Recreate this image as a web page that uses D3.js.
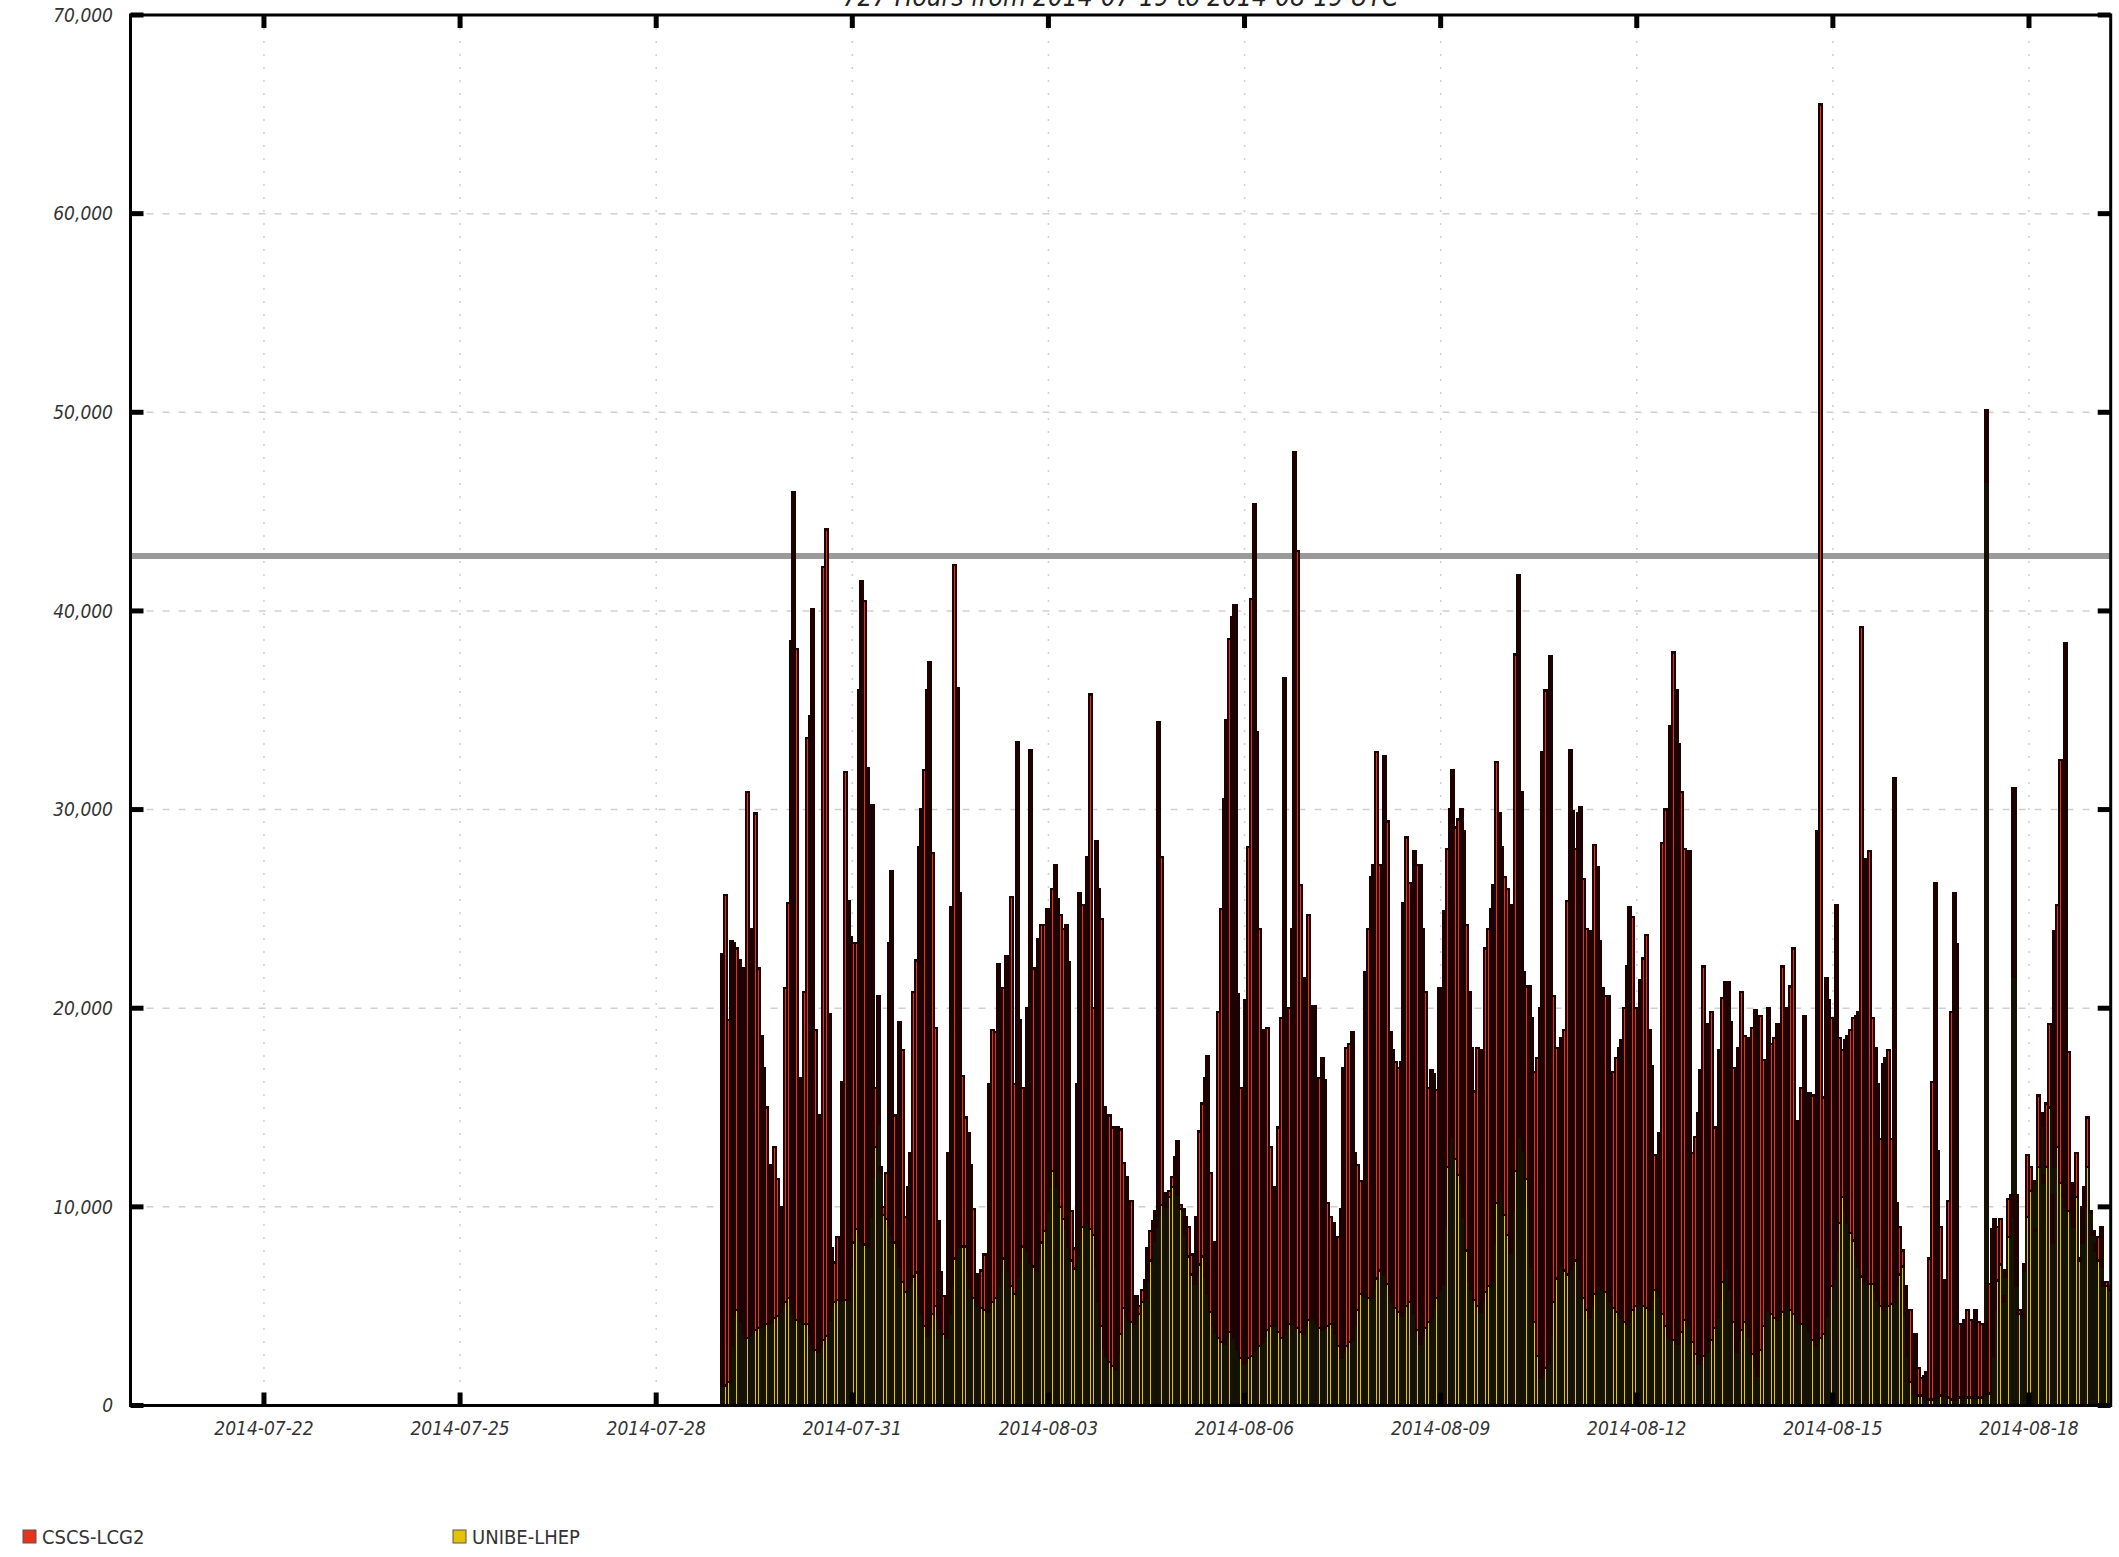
<!DOCTYPE html>
<html>
<head>
<meta charset="utf-8">
<script src="https://cdn.jsdelivr.net/npm/d3@7"></script>
<style>
  body { margin: 0; background: #fff; }
  svg text { font-family: "DejaVu Sans Condensed", "DejaVu Sans", sans-serif; font-stretch: condensed; }
</style>
</head>
<body>
<svg id="chart" width="2119" height="1557"></svg>
<script>
// hourly values in thousands, first bar = 2014-07-29 00:00 UTC, one row per day
const unibe = [
  1.0,1.0,1.2,3.0,4.5,4.8,4.9,4.2,3.6,3.4,3.5,3.7,3.8,3.9,4.0,4.0,4.1,4.1,4.2,4.4,4.5,4.7,5.0,5.2,
  5.4,5.0,4.6,4.3,4.2,4.2,4.1,4.1,3.6,3.1,2.8,2.7,3.0,3.3,3.5,4.3,5.0,5.2,5.3,5.3,5.3,5.3,5.3,7.0,
  8.2,8.9,8.6,8.3,8.1,8.0,9.5,11.5,13.0,14.2,11.8,9.6,9.4,9.0,8.6,8.2,8.0,7.0,6.2,5.7,5.9,6.2,6.5,6.7,
  5.5,4.6,4.0,3.5,4.0,4.6,5.0,4.4,3.9,3.6,3.4,4.6,6.0,7.4,8.0,8.0,8.0,8.0,6.8,5.9,5.4,5.1,5.0,4.9,
  4.8,4.7,5.0,5.2,5.4,6.0,6.8,7.4,7.8,6.8,6.0,5.6,6.5,7.4,8.0,8.3,7.8,7.2,7.0,6.8,7.5,8.2,8.8,9.8,
  11.0,11.8,12.1,11.0,10.0,9.4,8.9,8.0,7.3,6.9,7.6,8.4,9.0,9.5,9.2,8.9,8.6,7.0,5.2,4.0,2.9,2.5,2.2,2.0,
  1.8,2.6,3.6,4.9,4.6,4.3,4.2,4.1,4.5,4.6,5.2,5.4,6.3,7.3,8.3,9.0,9.6,10.1,10.4,10.0,10.5,11.0,11.0,10.6,
  9.9,9.8,8.6,7.5,6.6,6.1,6.6,7.1,7.5,6.5,5.6,4.7,4.0,3.7,3.4,3.2,3.1,3.4,3.7,4.0,3.4,2.8,2.4,2.1,
  2.2,2.4,2.5,2.7,2.9,3.0,3.2,3.5,3.8,4.0,4.3,4.0,3.7,3.4,3.6,3.9,4.1,4.3,4.1,3.9,3.7,3.6,4.0,4.3,
  4.6,4.4,4.1,3.9,3.8,3.9,4.0,4.1,4.2,3.6,3.0,2.4,2.7,3.0,3.2,3.3,4.0,4.8,5.6,5.6,5.5,5.4,5.4,5.9,
  6.4,6.8,7.1,6.6,6.1,5.6,5.2,4.9,4.7,4.5,4.7,5.0,5.2,5.4,4.6,3.8,3.1,3.5,3.9,4.2,4.4,4.9,5.4,5.8,
  6.1,9.0,12.0,14.6,13.5,12.4,11.6,11.2,9.5,7.8,6.3,5.8,5.3,5.0,4.7,5.2,5.7,6.0,6.3,8.2,10.2,12.1,10.8,9.6,
  8.6,7.7,9.8,11.8,13.5,14.4,12.8,11.4,10.0,7.0,4.2,2.5,1.4,1.6,1.9,2.1,3.5,5.2,6.4,7.4,7.1,6.8,6.6,6.9,
  7.1,7.3,7.4,6.4,5.4,4.8,4.4,5.0,5.6,6.2,6.0,5.8,5.7,5.6,5.2,4.9,4.7,4.6,4.4,4.2,4.1,4.5,4.8,5.0,
  5.2,5.1,5.0,4.9,4.8,5.3,5.8,6.2,5.5,4.6,4.0,3.5,3.4,3.3,3.2,3.1,3.7,4.3,4.9,4.0,3.2,2.6,2.1,2.3,
  2.5,2.7,2.8,3.3,3.9,4.4,5.3,6.2,6.9,7.4,5.8,4.2,2.7,3.3,3.8,4.2,4.5,3.5,2.6,2.0,1.5,2.8,4.0,5.0,
  4.8,4.6,4.4,4.3,4.5,4.7,4.9,5.0,4.8,4.6,4.3,4.2,4.1,4.1,4.0,3.7,3.3,3.0,3.2,3.4,3.6,4.5,5.3,6.0,
  6.4,7.8,9.2,10.5,9.8,9.2,8.7,8.3,7.6,7.0,6.5,6.2,6.2,6.1,6.1,5.7,5.3,5.0,4.8,4.9,5.0,5.1,5.2,6.0,
  6.6,7.0,4.5,2.5,1.2,0.6,0.6,0.5,0.5,0.4,0.4,0.3,0.3,0.4,0.4,0.5,0.5,0.5,0.4,0.3,0.3,0.3,0.4,0.4,
  0.4,0.4,0.4,0.4,0.4,0.4,0.4,0.5,46.5,0.6,2.5,4.8,6.3,7.1,5.2,6.5,8.5,9.5,21.6,6.0,4.6,4.5,6.8,9.5,
  10.8,11.2,8.8,12.0,14.1,11.2,12.0,15.0,8.2,12.0,13.0,11.2,10.5,10.0,9.8,9.7,9.0,10.5,7.3,8.2,10.0,12.0,9.7,8.6,
  7.8,7.3,7.0,6.0,6.0,5.8
];
const cscs = [
  21.7,24.7,18.2,20.4,18.8,18.2,17.5,17.6,18.4,27.5,20.5,20.3,26.0,18.1,14.6,13.0,10.9,5.4,7.9,8.6,6.9,5.3,4.1,15.8,
  19.9,33.5,41.4,33.8,12.3,9.8,16.7,29.5,31.1,37.0,16.1,3.3,11.6,38.9,40.6,15.4,2.9,2.0,3.2,2.7,11.0,26.6,20.1,16.6,
  15.1,14.4,27.4,33.2,32.4,24.1,16.5,18.7,3.0,6.4,0.2,0.4,2.3,14.3,18.3,6.4,3.1,12.3,11.7,3.8,5.1,6.5,14.3,15.7,
  22.6,25.4,28.0,32.5,33.4,23.2,14.0,4.9,2.8,1.9,1.6,8.1,19.1,34.9,28.1,17.8,8.6,6.5,6.9,6.2,4.5,1.2,1.6,1.9,
  2.8,1.4,11.2,13.7,13.4,16.2,13.6,13.6,14.8,9.4,19.6,10.6,26.9,12.0,8.0,6.3,12.2,25.8,15.0,11.9,16.0,16.0,15.4,15.2,
  11.3,14.2,15.1,14.5,14.7,14.6,15.3,14.3,2.5,1.0,8.6,17.4,16.2,6.6,18.4,26.9,11.4,21.4,20.8,20.5,12.1,11.6,12.4,12.0,
  10.4,11.4,10.3,7.3,6.9,5.4,6.1,0.6,1.0,0.4,0.6,0.9,1.6,1.5,1.0,0.8,24.8,17.5,0.3,0.2,0.3,0.5,1.5,2.7,
  0.2,0.1,0.9,1.5,1.0,1.3,2.9,6.7,7.7,10.0,12.0,7.0,1.1,4.5,16.4,21.8,27.4,31.1,34.9,35.7,36.9,17.9,13.6,12.5,
  18.2,25.7,38.1,42.7,31.0,21.0,11.0,15.4,15.2,9.0,4.9,7.0,10.3,16.1,33.0,14.0,15.9,19.7,43.9,39.1,22.5,17.9,14.9,20.4,
  15.2,15.7,11.7,12.6,13.7,12.5,6.2,5.4,5.0,4.2,5.5,7.5,14.3,15.0,15.0,15.5,8.7,7.3,5.7,4.3,16.3,18.6,21.2,21.3,
  26.5,20.4,17.6,26.1,23.3,13.2,12.7,12.4,12.3,12.8,20.6,23.6,21.1,20.4,23.3,23.4,24.1,20.5,16.9,11.8,12.5,11.8,10.5,15.2,
  11.6,15.9,16.0,15.4,18.5,16.7,17.9,18.8,19.4,16.4,14.5,12.2,10.5,13.0,7.9,12.7,17.3,18.0,18.7,18.0,22.2,17.7,17.3,17.0,
  17.4,11.0,15.4,26.0,28.3,16.5,9.0,9.7,11.1,12.5,12.6,15.0,18.6,31.3,34.1,24.0,34.2,15.4,11.6,9.4,11.4,12.1,18.8,26.1,
  22.8,20.7,22.4,23.7,21.1,19.2,17.8,18.9,22.6,20.9,17.4,15.2,14.9,15.0,11.1,11.9,12.8,13.4,14.0,15.8,18.0,20.6,19.8,15.0,
  10.8,16.3,17.5,18.8,14.1,11.8,6.8,5.0,8.2,23.7,26.0,25.0,30.8,34.6,32.8,30.2,27.2,23.7,22.3,23.9,9.5,10.9,12.6,14.6,
  19.6,16.5,14.8,16.5,10.1,3.5,12.6,14.3,14.4,13.9,13.5,12.8,13.1,14.7,17.0,14.4,14.0,14.9,16.4,17.9,11.6,16.8,13.4,11.5,
  15.2,13.6,14.1,14.9,14.5,17.4,15.1,13.2,16.3,18.4,9.7,10.1,11.9,15.5,10.3,12.0,12.3,12.3,25.7,62.1,11.9,17.0,15.1,13.5,
  12.3,17.4,9.3,7.4,8.6,9.4,10.2,11.2,12.0,12.8,32.7,20.9,21.3,21.8,13.4,12.3,10.9,8.4,12.4,12.6,12.9,8.3,26.4,4.2,
  2.4,0.8,1.5,2.3,3.6,2.4,3.0,1.4,0.9,1.1,1.3,7.1,16.0,25.9,12.4,8.5,5.8,3.7,9.9,19.5,25.5,22.9,3.7,2.1,
  3.9,4.4,3.9,3.2,4.4,3.8,3.7,3.6,3.6,5.5,6.4,4.6,2.7,2.3,0.3,0.3,1.9,1.1,9.5,4.6,0.2,0.1,0.3,3.1,
  1.2,0.1,0.1,3.6,0.6,0.4,3.2,4.2,2.4,11.9,12.2,21.3,13.5,28.4,8.0,0.3,2.2,2.2,0.1,1.8,1.0,2.5,0.1,0.2,
  0.3,1.2,2.0,0.2,0.2,0.2
];

const seriesNames = ["CSCS-LCG2", "UNIBE-LHEP"];
const seriesColors = { cscs: "#e8321e", unibe: "#e6c200" };
const seriesEdges = { cscs: "#1c0201", unibe: "#141204" };
const xTickLabels = ["2014-07-22", "2014-07-25", "2014-07-28", "2014-07-31", "2014-08-03",
                     "2014-08-06", "2014-08-09", "2014-08-12", "2014-08-15", "2014-08-18"];
const yTickValues = [0, 10, 20, 30, 40, 50, 60, 70];
const referenceLine = 42.77;
const title = "727 Hours from 2014-07-19 to 2014-08-19 UTC";

const svg = d3.select("#chart");
const plotLeft = 130.5, plotRight = 2110.7, plotTop = 15, plotBottom = 1405.5;

const x = d3.scaleUtc()
    .domain([new Date("2014-07-19T23:00:00Z"), new Date("2014-08-19T06:00:00Z")])
    .range([plotLeft, plotRight]);
const y = d3.scaleLinear().domain([0, 70]).range([plotBottom, plotTop]);

const firstHour = new Date("2014-07-29T00:00:00Z");
const rows = cscs.map((c, i) => ({ t: d3.utcHour.offset(firstHour, i), cscs: c, unibe: unibe[i] }));
const stacked = d3.stack().keys(["unibe", "cscs"])(rows);

const tickDates = xTickLabels.map(s => new Date(s + "T00:00:00Z"));
const fmt = d3.format(",");

// grid
svg.append("g").selectAll("line")
    .data(yTickValues.filter(v => v > 0 && v < 70))
    .join("line")
    .attr("x1", plotLeft).attr("x2", plotRight)
    .attr("y1", d => y(d)).attr("y2", d => y(d))
    .attr("stroke", "#cfcfcf").attr("stroke-width", 1.5)
    .attr("stroke-dasharray", "7,9");

svg.append("g").selectAll("line")
    .data(tickDates)
    .join("line")
    .attr("x1", d => x(d)).attr("x2", d => x(d))
    .attr("y1", plotTop).attr("y2", plotBottom)
    .attr("stroke", "#cfcfcf").attr("stroke-width", 1.5)
    .attr("stroke-dasharray", "2,11");

// reference line
svg.append("line")
    .attr("x1", plotLeft).attr("x2", plotRight)
    .attr("y1", y(referenceLine)).attr("y2", y(referenceLine))
    .attr("stroke", "#9a9a9a").attr("stroke-width", 6);

// bars
svg.append("g").selectAll("g")
    .data(stacked)
    .join("g")
    .attr("fill", d => seriesColors[d.key])
    .attr("stroke", d => seriesEdges[d.key])
    .attr("stroke-width", 2.3)
    .attr("shape-rendering", "crispEdges")
    .selectAll("rect")
    .data(d => d)
    .join("rect")
    .attr("x", d => x(d.data.t))
    .attr("width", d => x(d3.utcHour.offset(d.data.t, 1)) - x(d.data.t))
    .attr("y", d => y(d[1]))
    .attr("height", d => y(d[0]) - y(d[1]));

// frame
svg.append("rect")
    .attr("x", plotLeft).attr("y", plotTop)
    .attr("width", plotRight - plotLeft).attr("height", plotBottom - plotTop)
    .attr("fill", "none").attr("stroke", "#000").attr("stroke-width", 3);

// ticks
const tickLen = 13;
svg.append("g").selectAll("line")
    .data(tickDates.flatMap(d => [[d, plotBottom, plotBottom - tickLen], [d, plotTop, plotTop + tickLen]]))
    .join("line")
    .attr("x1", d => x(d[0])).attr("x2", d => x(d[0]))
    .attr("y1", d => d[1]).attr("y2", d => d[2])
    .attr("stroke", "#000").attr("stroke-width", 5);

svg.append("g").selectAll("line")
    .data(yTickValues.flatMap(v => [[v, plotLeft, plotLeft + tickLen], [v, plotRight, plotRight - tickLen]]))
    .join("line")
    .attr("x1", d => d[1]).attr("x2", d => d[2])
    .attr("y1", d => y(d[0])).attr("y2", d => y(d[0]))
    .attr("stroke", "#000").attr("stroke-width", 5);

// tick labels
svg.append("g").selectAll("text")
    .data(yTickValues)
    .join("text")
    .attr("x", 113).attr("y", d => y(d)).attr("dy", "0.36em")
    .attr("text-anchor", "end")
    .attr("font-size", 19).attr("font-style", "italic").attr("fill", "#333")
    .text(d => fmt(d * 1000));

svg.append("g").selectAll("text")
    .data(tickDates)
    .join("text")
    .attr("x", d => x(d)).attr("y", 1435)
    .attr("text-anchor", "middle")
    .attr("font-size", 19).attr("font-style", "italic").attr("fill", "#333")
    .text((d, i) => xTickLabels[i]);

// title (cut at the top edge, as in the source image)
svg.append("text")
    .attr("x", (plotLeft + plotRight) / 2).attr("y", 6)
    .attr("text-anchor", "middle")
    .attr("font-size", 26).attr("font-style", "italic").attr("fill", "#222")
    .text(title);

// legend
const legend = [
    { name: seriesNames[0], color: seriesColors.cscs, x: 23 },
    { name: seriesNames[1], color: seriesColors.unibe, x: 453 }
];
const lg = svg.append("g").selectAll("g").data(legend).join("g");
lg.append("rect")
    .attr("x", d => d.x).attr("y", 1530).attr("width", 13).attr("height", 13)
    .attr("fill", d => d.color).attr("stroke", "#555").attr("stroke-width", 1);
lg.append("text")
    .attr("x", d => d.x + 19).attr("y", 1544)
    .attr("font-size", 20).attr("fill", "#333")
    .text(d => d.name);
</script>
</body>
</html>
